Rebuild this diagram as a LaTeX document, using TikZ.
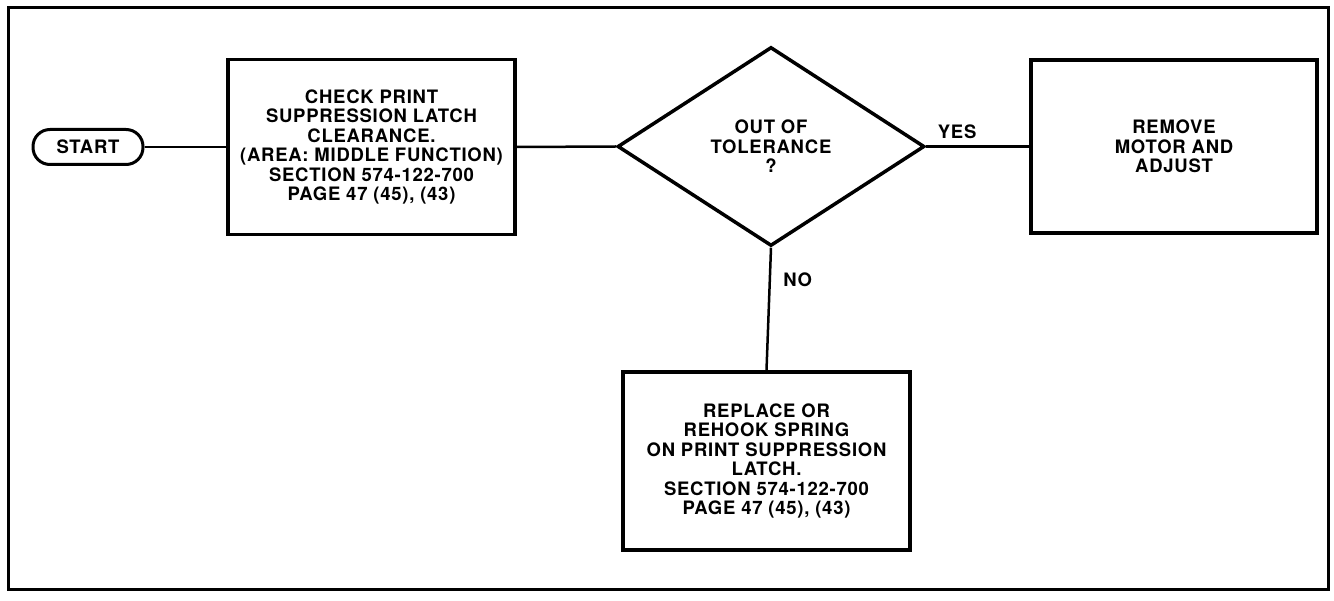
\documentclass[tikz,border=0pt]{standalone}
\usepackage{fontspec}
\setmainfont{TeX Gyre Heros}[LetterSpace=4]
\usetikzlibrary{shapes.geometric}

\tikzset{
    flowtext/.style={font=\bfseries\fontsize{18.5}{19.5}\selectfont, align=center},
    procbox/.style={flowtext, draw, line width=3.5pt, rectangle, minimum width=287pt, minimum height=175pt, inner sep=0pt},
    termbox/.style={flowtext, draw, line width=3pt, rectangle, rounded corners=17pt, minimum width=110pt, minimum height=35pt, inner sep=0pt},
    testbox/.style={flowtext, draw, line width=3.5pt, diamond, minimum width=307pt, minimum height=199pt, inner sep=0pt},
    link/.style={line width=2.5pt}
}

\begin{document}
\begin{tikzpicture}[x=1pt, y=-1pt]
    \useasboundingbox (0,0) rectangle (1334,601);
    \draw[line width=3pt] (8,8) rectangle (1328,589);

    \node[termbox] (start) at (88,147) {START};
    \node[procbox] (check) at (371.5,147) {CHECK PRINT\\ SUPPRESSION LATCH\\ CLEARANCE.\\ (AREA: MIDDLE FUNCTION)\\ SECTION 574-122-700\\ PAGE 47 (45), (43)};
    \node[testbox] (tol) at (771,146.5) {OUT OF\\ TOLERANCE\\ ?};
    \node[procbox, minimum width=286pt, minimum height=173pt] (remove) at (1174,146.5) {REMOVE\\ MOTOR AND\\ ADJUST};
    \node[procbox, minimum height=178pt] (replace) at (766.5,461) {REPLACE OR\\ REHOOK SPRING\\ ON PRINT SUPPRESSION\\ LATCH.\\ SECTION 574-122-700\\ PAGE 47 (45), (43)};

    \draw[link] (start.east) -- (check.west);
    \draw[link] (check.east) -- (tol.west);
    \draw[link] (tol.east) -- node[flowtext, pos=0.3, above=3pt] (yes) {YES} (remove.west);
    \draw[link] (tol.south) -- node[flowtext, pos=0.26, right=9pt] (no) {NO} (replace.north);

\end{tikzpicture}
\end{document}
